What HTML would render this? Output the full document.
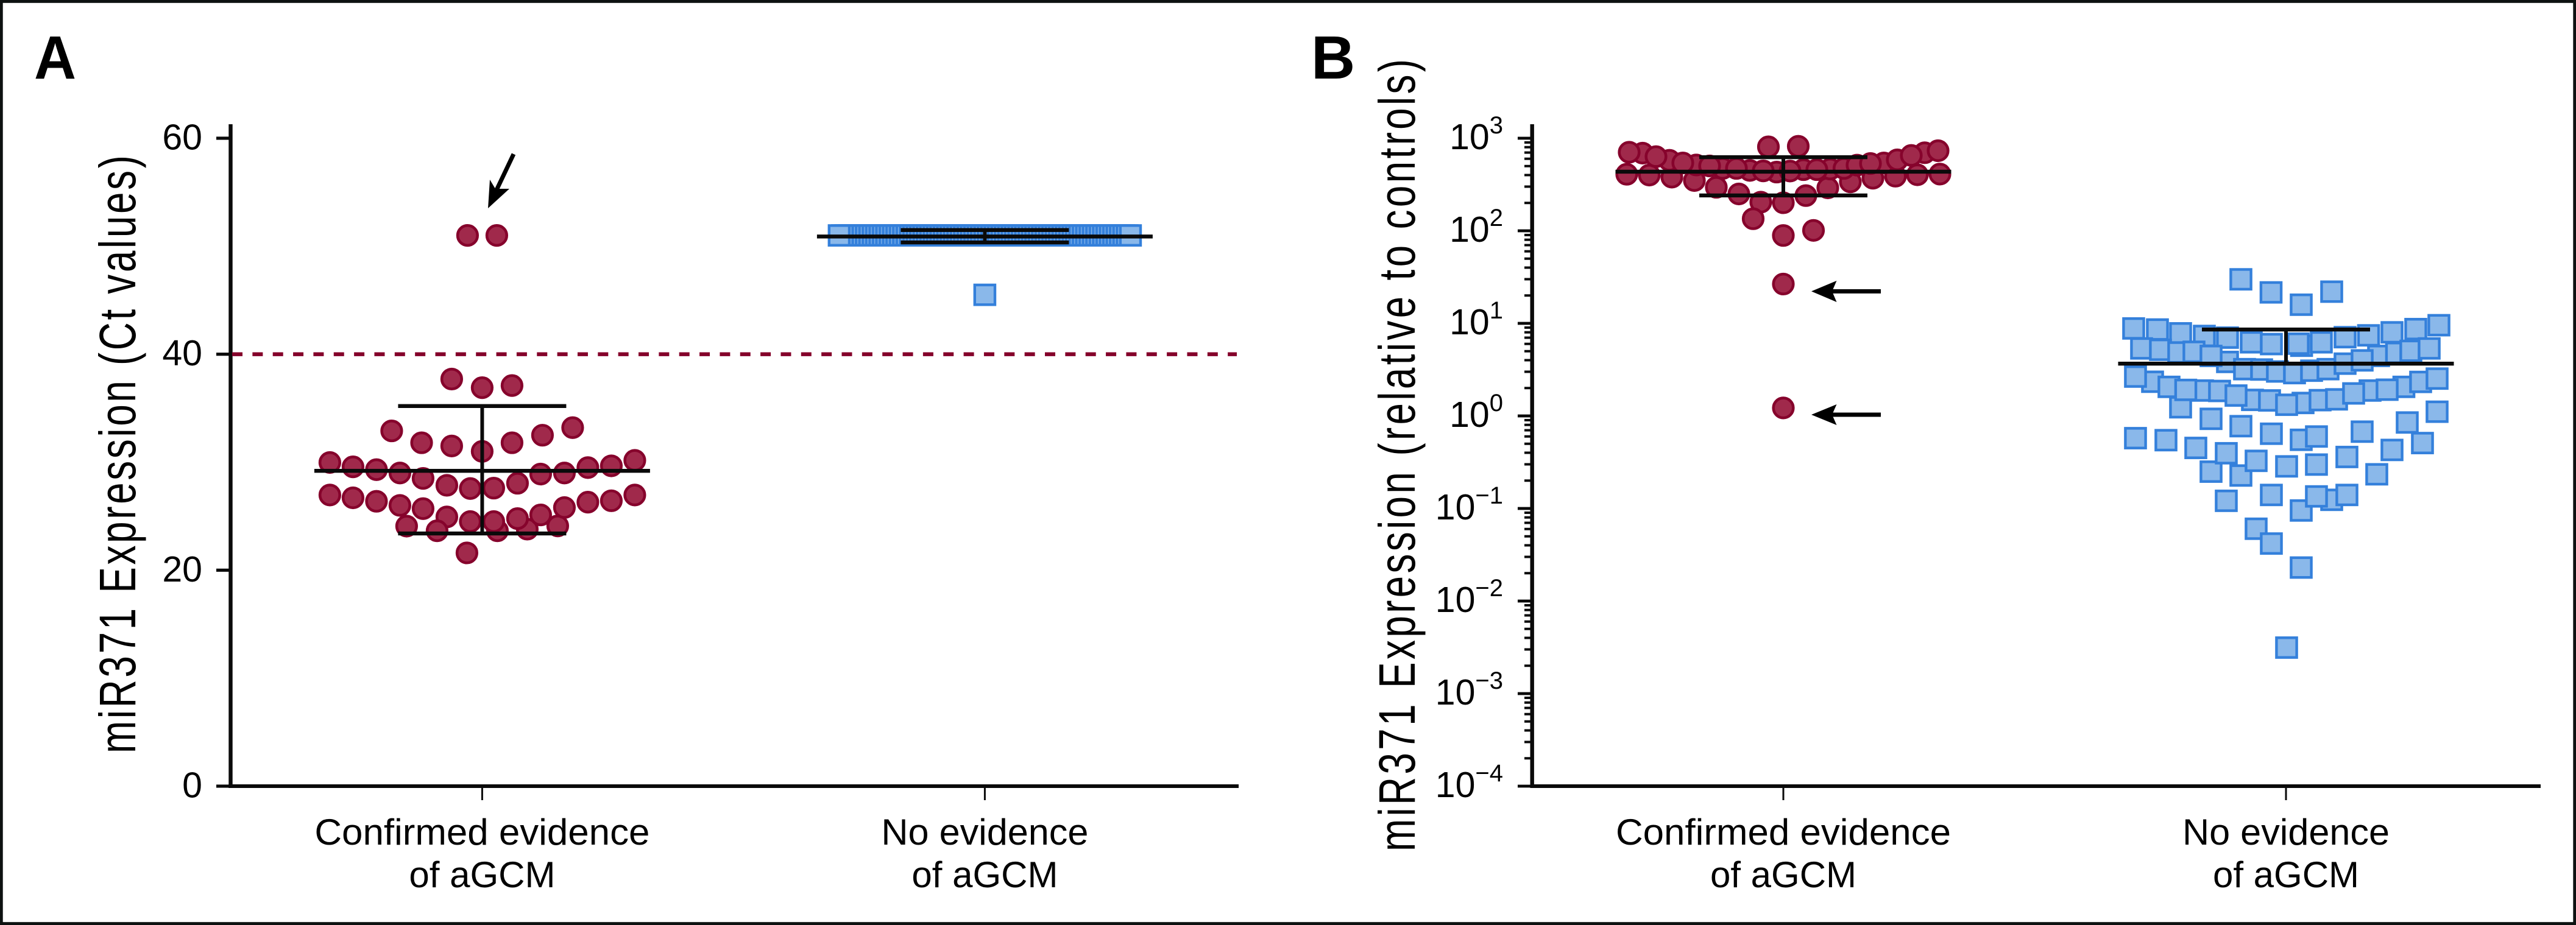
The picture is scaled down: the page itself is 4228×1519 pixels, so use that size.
<!DOCTYPE html>
<html lang="en">
<head>
<meta charset="utf-8">
<title>miR371 Expression</title>
<style>
html,body{margin:0;padding:0;background:#fff;}
svg{display:block;font-family:"Liberation Sans",Arial,sans-serif;}
</style>
</head>
<body>
<svg id="chart" xmlns="http://www.w3.org/2000/svg" width="4228" height="1519" viewBox="0 0 4228 1519">
  <rect x="0" y="0" width="4228" height="1519" fill="#fff"/>
  <rect x="2.3" y="2.4" width="4223.4" height="1514.2" fill="none" stroke="#0d1110" stroke-width="4.8"/>

  <g id="panel-a">
    <text x="56" y="129" font-size="100" font-weight="700" fill="#000" textLength="69" lengthAdjust="spacingAndGlyphs">A</text>
    <text transform="translate(222,746) rotate(-90) scale(0.76,1)" text-anchor="middle" font-size="84" textLength="1292" lengthAdjust="spacing" fill="#000">miR371 Expression (Ct values)</text>
    <g id="a-axes"></g>
    <g id="a-marks"></g>
    <g id="a-summary"></g>
    <g>
      <line x1="843" y1="253" x2="814" y2="314" stroke="#000" stroke-width="7"/>
      <polygon points="801,342 804,295 813,310 836,310" fill="#000"/>
    </g>
  </g>

  <g id="panel-b">
    <text x="2152" y="129" font-size="100" font-weight="700" fill="#000">B</text>
    <text transform="translate(2322,747.5) rotate(-90) scale(0.76,1)" text-anchor="middle" font-size="84" textLength="1712" lengthAdjust="spacing" fill="#000">miR371 Expression (relative to controls)</text>
    <g id="b-axes"></g>
    <g id="b-marks"></g>
    <g id="b-summary"></g>
    <g>
      <rect x="3005" y="474.9" width="82" height="7" fill="#000"/>
      <polygon points="2973,478.4 3014.5,461 3007,478.4 3014.5,496" fill="#000"/>
    </g>
    <g>
      <rect x="3005" y="677.5" width="82" height="7" fill="#000"/>
      <polygon points="2973,681 3014.5,664 3007,681 3014.5,698" fill="#000"/>
    </g>
  </g>
</svg>

<script>
/* ---------- category + tick data ---------- */
const categoryLine1 = ['Confirmed evidence', 'No evidence'];
const categoryLine2 = ['of aGCM', 'of aGCM'];
const categoryLine1Length = [550, 340];
const ticksA = [0, 20, 40, 60];
const thresholdA = [40];
const decadesB = [-4, -3, -2, -1, 0, 1, 2, 3];
const decadeLabelsB = ['\u22124', '\u22123', '\u22122', '\u22121', '0', '1', '2', '3'];
const minorMultipliersB = [2, 3, 4, 5, 6, 7, 8, 9];

/* ---------- panel A: Ct values ---------- */
const confirmedValuesA = [
  51.0, 51.0, 37.7, 36.9, 37.1,
  32.9, 31.8, 31.5, 31.0, 31.8, 32.5, 33.2,
  21.6,
  23.65, 24.1, 23.8,
  26.96, 26.7, 26.38, 26.0, 25.7, 24.93, 24.5, 24.5, 24.78, 25.12, 25.8, 26.3, 26.43, 26.96,
  24.08, 23.65,
  29.97, 29.57, 29.31, 29.0, 28.5, 27.86, 27.56, 27.6, 28.05, 28.9, 29.0, 29.5, 29.66, 30.17
];
const confirmedJitterA = [
  -24, 24, -50, 0, 49,
  -148.5, -99.4, -50, 0, 49, 99, 148.5,
  -25,
  25, 124, 74,
  -250, -212, -173.5, -135, -97, -58, -19.5, 19, 58, 96, 135, 173.5, 212, 250.5,
  -124, -74,
  -250, -212, -173.5, -135, -97, -58, -19.5, 19, 58, 96, 135, 173.5, 212, 250.5
];
const noEvidenceRowA = [
  51.0, 51.0, 51.0, 51.0, 51.0, 51.0, 51.0, 51.0, 51.0, 51.0, 51.0, 51.0, 51.0, 51.0, 51.0,
  51.0, 51.0, 51.0, 51.0, 51.0, 51.0, 51.0, 51.0, 51.0, 51.0, 51.0, 51.0, 51.0, 51.0, 51.0,
  51.0, 51.0, 51.0, 51.0, 51.0, 51.0, 51.0, 51.0, 51.0, 51.0, 51.0, 51.0, 51.0, 51.0, 51.0,
  51.0, 51.0, 51.0, 51.0, 51.0, 51.0, 51.0, 51.0, 51.0, 51.0, 51.0, 51.0, 51.0, 51.0, 51.0,
  51.0, 51.0, 51.0, 51.0, 51.0, 51.0, 51.0, 51.0, 51.0, 51.0, 51.0, 51.0, 51.0, 51.0, 51.0,
  51.0, 51.0, 51.0, 51.0, 51.0, 51.0, 51.0, 51.0, 51.0, 51.0, 51.0, 51.0
];
const noEvidenceOutliersA = [45.5];
const summaryLowerA = [23.4, 50.35];
const summaryMeanA = [29.2, 50.9];
const summaryUpperA = [35.2, 51.5];

/* ---------- panel B: relative expression ---------- */
const confirmedValuesB = [
  408, 400, 380, 349, 295, 250, 204, 201, 240, 291, 338, 370, 389, 403, 410,
  807, 819, 135, 89, 101, 26.6, 1.22,
  690, 578, 514, 472, 449, 431, 458, 465, 472, 541, 584, 697,
  706, 633, 541, 502, 472, 444, 442, 458, 512, 533, 652, 733
];
const confirmedJitterB = [
  -257, -220, -183, -146, -110, -73, -37, 0, 37, 73, 110, 147, 184, 220, 257,
  -24.5, 24.5, -49.5, 0, 49.5, 0, 0,
  -231, -187, -143, -99.5, -55, -11, 33, 77, 99.5, 165, 187, 232,
  -253, -209, -165, -121, -77, -33, 11, 55, 121, 143, 210, 254
];
const noEvidenceValuesB = [
  0.023, 0.00314, 0.0604, 0.0418,
  0.0951, 0.124, 0.135, 0.14, 0.14, 0.121,
  0.25, 0.227, 0.395, 0.327, 0.285, 0.298, 0.36, 0.234, 0.429, 0.509, 0.575, 0.547, 0.451, 0.552, 0.599,
  0.642, 0.676, 0.775, 0.849, 0.93, 1.11, 1.24,
  29.9, 21.6, 15.9, 22.0,
  8.81, 8.58, 7.80, 7.31, 7.01, 6.24, 5.73, 5.97, 6.03, 6.24, 7.09, 7.42, 8.0, 8.67, 9.55,
  5.36, 5.18, 4.85, 4.93, 3.83, 4.45, 3.2, 3.17, 3.02, 2.90, 3.08, 3.2, 3.67, 4.45, 3.98, 4.80, 5.05, 5.36,
  2.34, 2.06, 2.66, 1.88, 1.91, 1.86, 1.49, 1.66, 1.47, 1.38, 1.48, 1.32, 1.51, 1.88, 1.75, 2.06, 1.92, 2.33, 2.53
];
const noEvidenceJitterB = [
  25, 1, -49, -24,
  25, 75, 50, 100, -24, -98,
  -123, -74, -98, -49, 1, 50, 100, 149, 174, 224, -247, -197, -148, 25, 50,
  -24, 125, -74, 199, -123, 248, -173,
  -74, -24.5, 25, 75,
  -250, -211, -173, -134, -96, -57, 25.6, -24, 20, 58, 97, 135.5, 174, 213, 251,
  -237, -206, -176, -151, -96, -123, -68, -40, -14, 14, 42, 69, 97, 152, 125, 181.5, 205, 235,
  -219, -192, -247, -137, -164.5, -109, -55, -82, -27, 28, 56, 1, 83, 138, 111, 193.5, 166, 221, 248
];
const summaryLowerB = [241, 3.67];
const summaryMeanB = [435, 3.67];
const summaryUpperB = [624, 8.58];

/* ---------- scales and styling ---------- */
const NS = 'http://www.w3.org/2000/svg';
const jitterUnitsPerCategory = 825;
const xA = function (c) { return 791.4 + 825 * c; };
const xB = function (c) { return 2927 + 825 * c; };
const yA = function (v) { return 1291 - v * (1291 - 227) / 60; };
const yB = function (v) { return 683 - 152 * Math.log10(v); };
const RED_FILL = '#a0294b', RED_STROKE = '#86032c';
const BLUE_FILL = '#8ab8ea', BLUE_STROKE = '#3480db';
const INK = '#0a0a0a';

function make(parent, tag, attrs) {
  const el = document.createElementNS(NS, tag);
  for (const k in attrs) el.setAttribute(k, attrs[k]);
  parent.appendChild(el);
  return el;
}

function drawCircle(parent, x, y) {
  const el = make(parent, 'circle', { cx: x, cy: y, r: 16.3, fill: RED_FILL, stroke: RED_STROKE, 'stroke-width': 4.6 });
  
  
}

function drawSquare(parent, x, y) {
  const el = make(parent, 'rect', { x: x - 16.6, y: y - 16.2, width: 33.2, height: 32.4, fill: BLUE_FILL, stroke: BLUE_STROKE, 'stroke-width': 4.4 });
  
  
}

function drawSummary(parent, cx, yLow, yMean, yHigh) {
  const stem = make(parent, 'rect', { x: cx - 3, y: yHigh, width: 6, height: yLow - yHigh, fill: INK });
  
  
  const mean = make(parent, 'rect', { x: cx - 275.5, y: yMean - 3.2, width: 551, height: 6.4, fill: INK });
  
  
  const top = make(parent, 'rect', { x: cx - 138, y: yHigh - 3.2, width: 276, height: 6.4, fill: INK });
  
  
  const bottom = make(parent, 'rect', { x: cx - 138, y: yLow - 3.2, width: 276, height: 6.4, fill: INK });
  
  
}

function drawBaseAxes(parent, axisX, axisEnd, xScale) {
  const yAxis = make(parent, 'rect', { x: axisX - 3.2, y: 204, width: 6.4, height: 1090, fill: INK });
  
  
  const xAxis = make(parent, 'rect', { x: axisX - 3.2, y: 1288, width: axisEnd - axisX + 3.2, height: 6, fill: INK });
  
  
  categoryLine1.forEach(function (label, c) {
    const tick = make(parent, 'rect', { x: xScale(c) - 1.5, y: 1291, width: 3, height: 23, fill: INK });
    
    
    const t1 = make(parent, 'text', { x: xScale(c), y: 1387, 'text-anchor': 'middle', 'font-size': 60, textLength: categoryLine1Length[c], lengthAdjust: 'spacingAndGlyphs', fill: '#000' });
    t1.textContent = label;
    
    
    const t2 = make(parent, 'text', { x: xScale(c), y: 1457, 'text-anchor': 'middle', 'font-size': 60, fill: '#000' });
    t2.textContent = categoryLine2[c];
    
    
  });
}

/* ---------- panel A ---------- */
const aAxes = document.getElementById('a-axes');
const aMarks = document.getElementById('a-marks');
const aSummary = document.getElementById('a-summary');
drawBaseAxes(aAxes, 378.5, 2033, xA);
ticksA.forEach(function (v) {
  const tick = make(aAxes, 'rect', { x: 355, y: yA(v) - 2.6, width: 24, height: 5.2, fill: INK });
  
  
  const label = make(aAxes, 'text', { x: 332, y: yA(v) + 18.5, 'text-anchor': 'end', 'font-size': 59, fill: '#000' });
  label.textContent = String(v);
  
  
});
thresholdA.forEach(function (v) {
  const line = make(aAxes, 'line', { x1: 381, x2: 2030, y1: yA(v), y2: yA(v), stroke: '#84002a', 'stroke-width': 6.4, 'stroke-dasharray': '17 16.35' });
  
  
});
confirmedValuesA.forEach(function (v, i) {
  drawCircle(aMarks, xA(confirmedJitterA[i] / jitterUnitsPerCategory), yA(v));
});
const rowStepA = 478 / (noEvidenceRowA.length - 1);
noEvidenceRowA
  .map(function (v, i) { return { v: v, off: (i - (noEvidenceRowA.length - 1) / 2) * rowStepA }; })
  .sort(function (p, q) { return Math.abs(p.off) - Math.abs(q.off); })
  .forEach(function (p) { drawSquare(aMarks, xA(1) + p.off, yA(p.v)); });
noEvidenceOutliersA.forEach(function (v) {
  drawSquare(aMarks, xA(1), yA(v));
});
categoryLine1.forEach(function (label, c) {
  drawSummary(aSummary, xA(c), yA(summaryLowerA[c]), yA(summaryMeanA[c]), yA(summaryUpperA[c]));
});

/* ---------- panel B ---------- */
const bAxes = document.getElementById('b-axes');
const bMarks = document.getElementById('b-marks');
const bSummary = document.getElementById('b-summary');
drawBaseAxes(bAxes, 2514.7, 4170, xB);
decadesB.forEach(function (d, i) {
  const major = make(bAxes, 'rect', { x: 2491, y: yB(Math.pow(10, d)) - 2.4, width: 24, height: 4.8, fill: INK });
  
  
  const label = make(bAxes, 'text', { x: 2467, y: yB(Math.pow(10, d)) + 18, 'text-anchor': 'end', 'font-size': 59, fill: '#000' });
  
  
  const base = make(label, 'tspan', {});
  base.textContent = '10';
  const sup = make(label, 'tspan', { dy: -26, 'font-size': 40 });
  sup.textContent = decadeLabelsB[i];
  if (d < 3) {
    minorMultipliersB.forEach(function (m) {
      const minor = make(bAxes, 'rect', { x: 2502, y: yB(m * Math.pow(10, d)) - 2, width: 12, height: 4, fill: INK });
      
      
    });
  }
});
confirmedValuesB.forEach(function (v, i) {
  drawCircle(bMarks, xB(confirmedJitterB[i] / jitterUnitsPerCategory), yB(v));
});
noEvidenceValuesB.forEach(function (v, i) {
  drawSquare(bMarks, xB(1 + noEvidenceJitterB[i] / jitterUnitsPerCategory), yB(v));
});
drawSummary(bSummary, xB(0), yB(summaryLowerB[0]), yB(summaryMeanB[0]), yB(summaryUpperB[0]));
drawSummary(bSummary, xB(1), yB(summaryLowerB[1]), yB(summaryMeanB[1]), yB(summaryUpperB[1]));
</script>
</body>
</html>
